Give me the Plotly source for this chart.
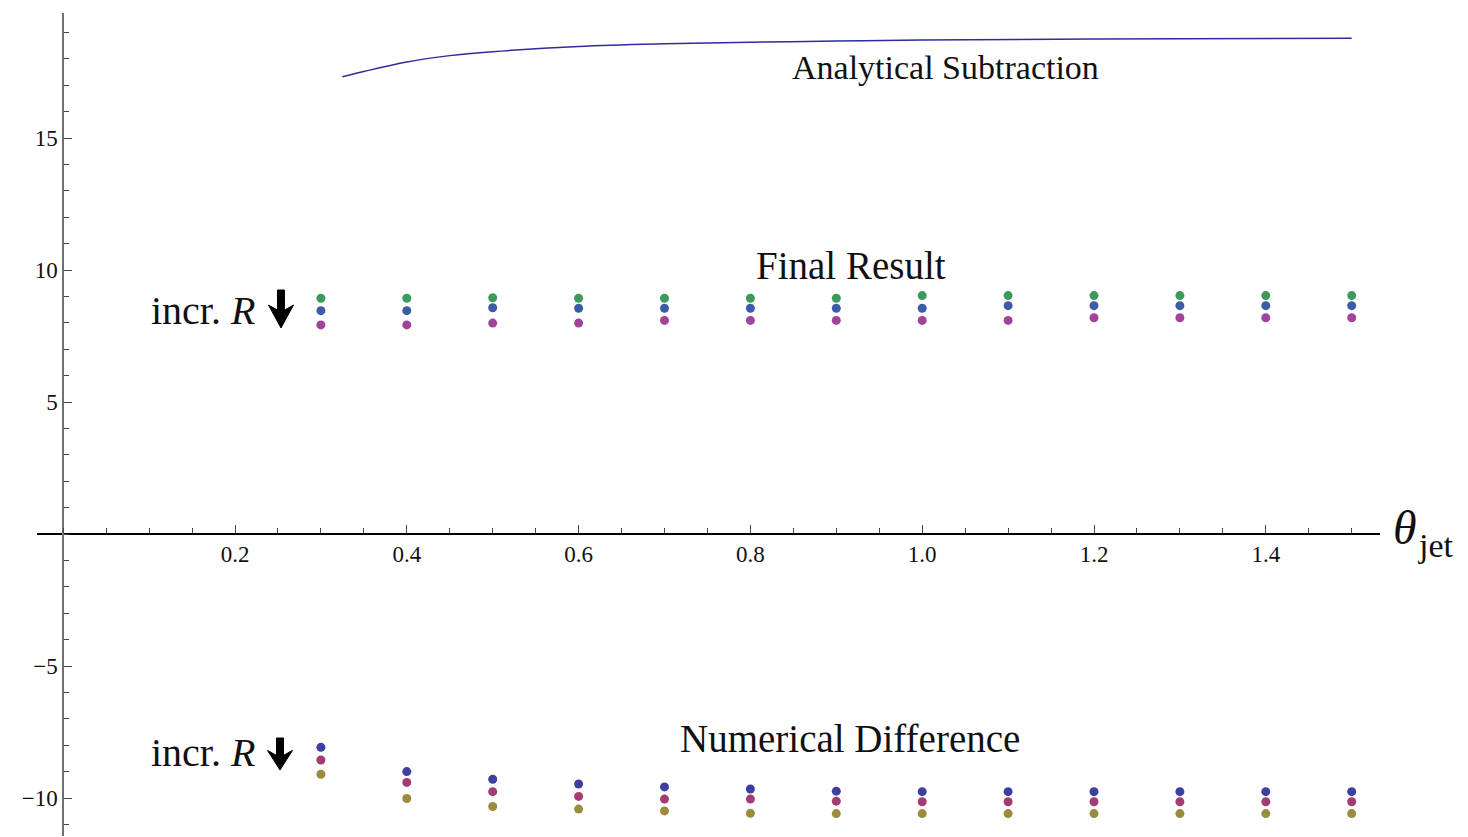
import plotly.graph_objects as go

# ---- data ----
theta = [0.3, 0.4, 0.5, 0.6, 0.7, 0.8, 0.9, 1.0, 1.1, 1.2, 1.3, 1.4, 1.5]

final_green = [8.93, 8.93, 8.95, 8.93, 8.93, 8.93, 8.93, 9.03, 9.03, 9.03, 9.03, 9.03, 9.03]
final_blue = [8.46, 8.46, 8.57, 8.55, 8.55, 8.55, 8.55, 8.55, 8.65, 8.65, 8.65, 8.65, 8.65]
final_magenta = [7.92, 7.92, 7.99, 7.99, 8.09, 8.09, 8.09, 8.09, 8.09, 8.19, 8.19, 8.19, 8.19]

num_blue = [-8.08, -9.00, -9.29, -9.47, -9.58, -9.66, -9.74, -9.76, -9.76, -9.76, -9.76, -9.76, -9.76]
num_rose = [-8.56, -9.41, -9.76, -9.94, -10.04, -10.04, -10.12, -10.14, -10.14, -10.14, -10.14, -10.14, -10.14]
num_gold = [-9.10, -10.02, -10.32, -10.42, -10.49, -10.58, -10.59, -10.59, -10.59, -10.59, -10.59, -10.59, -10.59]

curve_x = [0.325, 0.35, 0.4, 0.45, 0.5, 0.6, 0.7, 0.8, 0.9, 1.0, 1.2, 1.5]
curve_y = [17.32, 17.52, 17.88, 18.12, 18.27, 18.47, 18.57, 18.63, 18.67, 18.71, 18.75, 18.78]

x_tickvals = [0.2, 0.4, 0.6, 0.8, 1.0, 1.2, 1.4]
x_ticktext = ["0.2", "0.4", "0.6", "0.8", "1.0", "1.2", "1.4"]
y_tickvals = [-10, -5, 5, 10, 15]
y_ticktext = ["\u221210", "\u22125", "5", "10", "15"]

W, H = 1468, 837
SERIF = "Liberation Serif"

fig = go.Figure()

fig.add_trace(go.Scatter(x=curve_x, y=curve_y, mode="lines",
                         line=dict(color="#2c2c9c", width=1.5, shape="spline"),
                         showlegend=False, hoverinfo="skip"))

def pts(y, color):
    fig.add_trace(go.Scatter(x=theta, y=y, mode="markers",
                             marker=dict(color=color, size=9, line=dict(width=0)),
                             showlegend=False))

pts(final_green, "#3c9b5b")
pts(final_blue, "#3c5ca6")
pts(final_magenta, "#a1429b")
pts(num_blue, "#3f3fa0")
pts(num_rose, "#a33c72")
pts(num_gold, "#9b8b3f")

# pixel -> domain mapping
x_left_px, x_right_px = 37, 1380
y_top_px, y_bot_px = 13, 836
x0_px, px_per_x = 63.2, 859.0
y0_px, px_per_y = 534.0, 26.4

xr = [(x_left_px - x0_px) / px_per_x, (x_right_px - x0_px) / px_per_x]
yr = [(y0_px - y_bot_px) / px_per_y, (y0_px - y_top_px) / px_per_y]

fig.update_layout(
    width=W, height=H,
    margin=dict(l=0, r=0, t=0, b=0),
    paper_bgcolor="white", plot_bgcolor="white",
    font=dict(family=SERIF, color="black"),
    xaxis=dict(
        domain=[x_left_px / W, x_right_px / W],
        range=xr, anchor="free", position=(H - y0_px) / H,
        showgrid=False, zeroline=False,
        showline=True, linecolor="black", linewidth=1.5,
        tickvals=x_tickvals, ticktext=x_ticktext,
        ticks="inside", ticklen=8, tickwidth=1, tickcolor="#444",
        tickfont=dict(size=23, family=SERIF, color="#111"),
        minor=dict(tick0=0, dtick=0.05, ticks="inside", ticklen=5, tickwidth=1, tickcolor="#444", showgrid=False),
    ),
    yaxis=dict(
        domain=[(H - y_bot_px) / H, (H - y_top_px) / H],
        range=yr, anchor="free", position=x0_px / W,
        showgrid=False, zeroline=False,
        showline=True, linecolor="#707070", linewidth=1.5,
        tickvals=y_tickvals, ticktext=y_ticktext,
        ticks="inside", ticklen=8, tickwidth=1, tickcolor="#444",
        tickfont=dict(size=23, family=SERIF, color="#111"),
        minor=dict(tick0=0, dtick=1, ticks="inside", ticklen=5, tickwidth=1, tickcolor="#444", showgrid=False),
    ),
)

ann = []
def label(text, xp, yp, size, anchor="center"):
    ann.append(dict(text=text, xref="paper", yref="paper", x=xp / W, y=(H - yp) / H,
                    xanchor=anchor, yanchor="middle", showarrow=False,
                    font=dict(family=SERIF, size=size, color="#111")))

label("Analytical Subtraction", 945, 67, 34)
label("Final Result", 851, 266, 39)
label("Numerical Difference", 850, 738, 39)
label("incr. <i>R</i>", 149, 310, 40, anchor="left")
label("incr. <i>R</i>", 149, 752, 40, anchor="left")
label("<i>\u03b8</i>", 1391, 527, 48, anchor="left")
label("jet", 1416, 545, 34, anchor="left")
fig.update_layout(annotations=ann)

# thick downward arrows (decoration, drawn in paper coordinates)
def arrow(cx, top, bottom):
    headtop = top + 0.45 * (bottom - top)
    pts_px = [(cx - 3.5, top), (cx + 3.5, top), (cx + 3.5, headtop + 3),
              (cx + 12.5, headtop - 2), (cx, bottom), (cx - 12.5, headtop - 2),
              (cx - 3.5, headtop + 3)]
    path = "M " + " L ".join(f"{px / W:.5f},{(H - py) / H:.5f}" for px, py in pts_px) + " Z"
    fig.add_shape(type="path", path=path, xref="paper", yref="paper",
                  fillcolor="black", line=dict(color="black", width=1))

arrow(281, 290, 328)
arrow(280, 738, 770)

fig.write_html("out.html")
